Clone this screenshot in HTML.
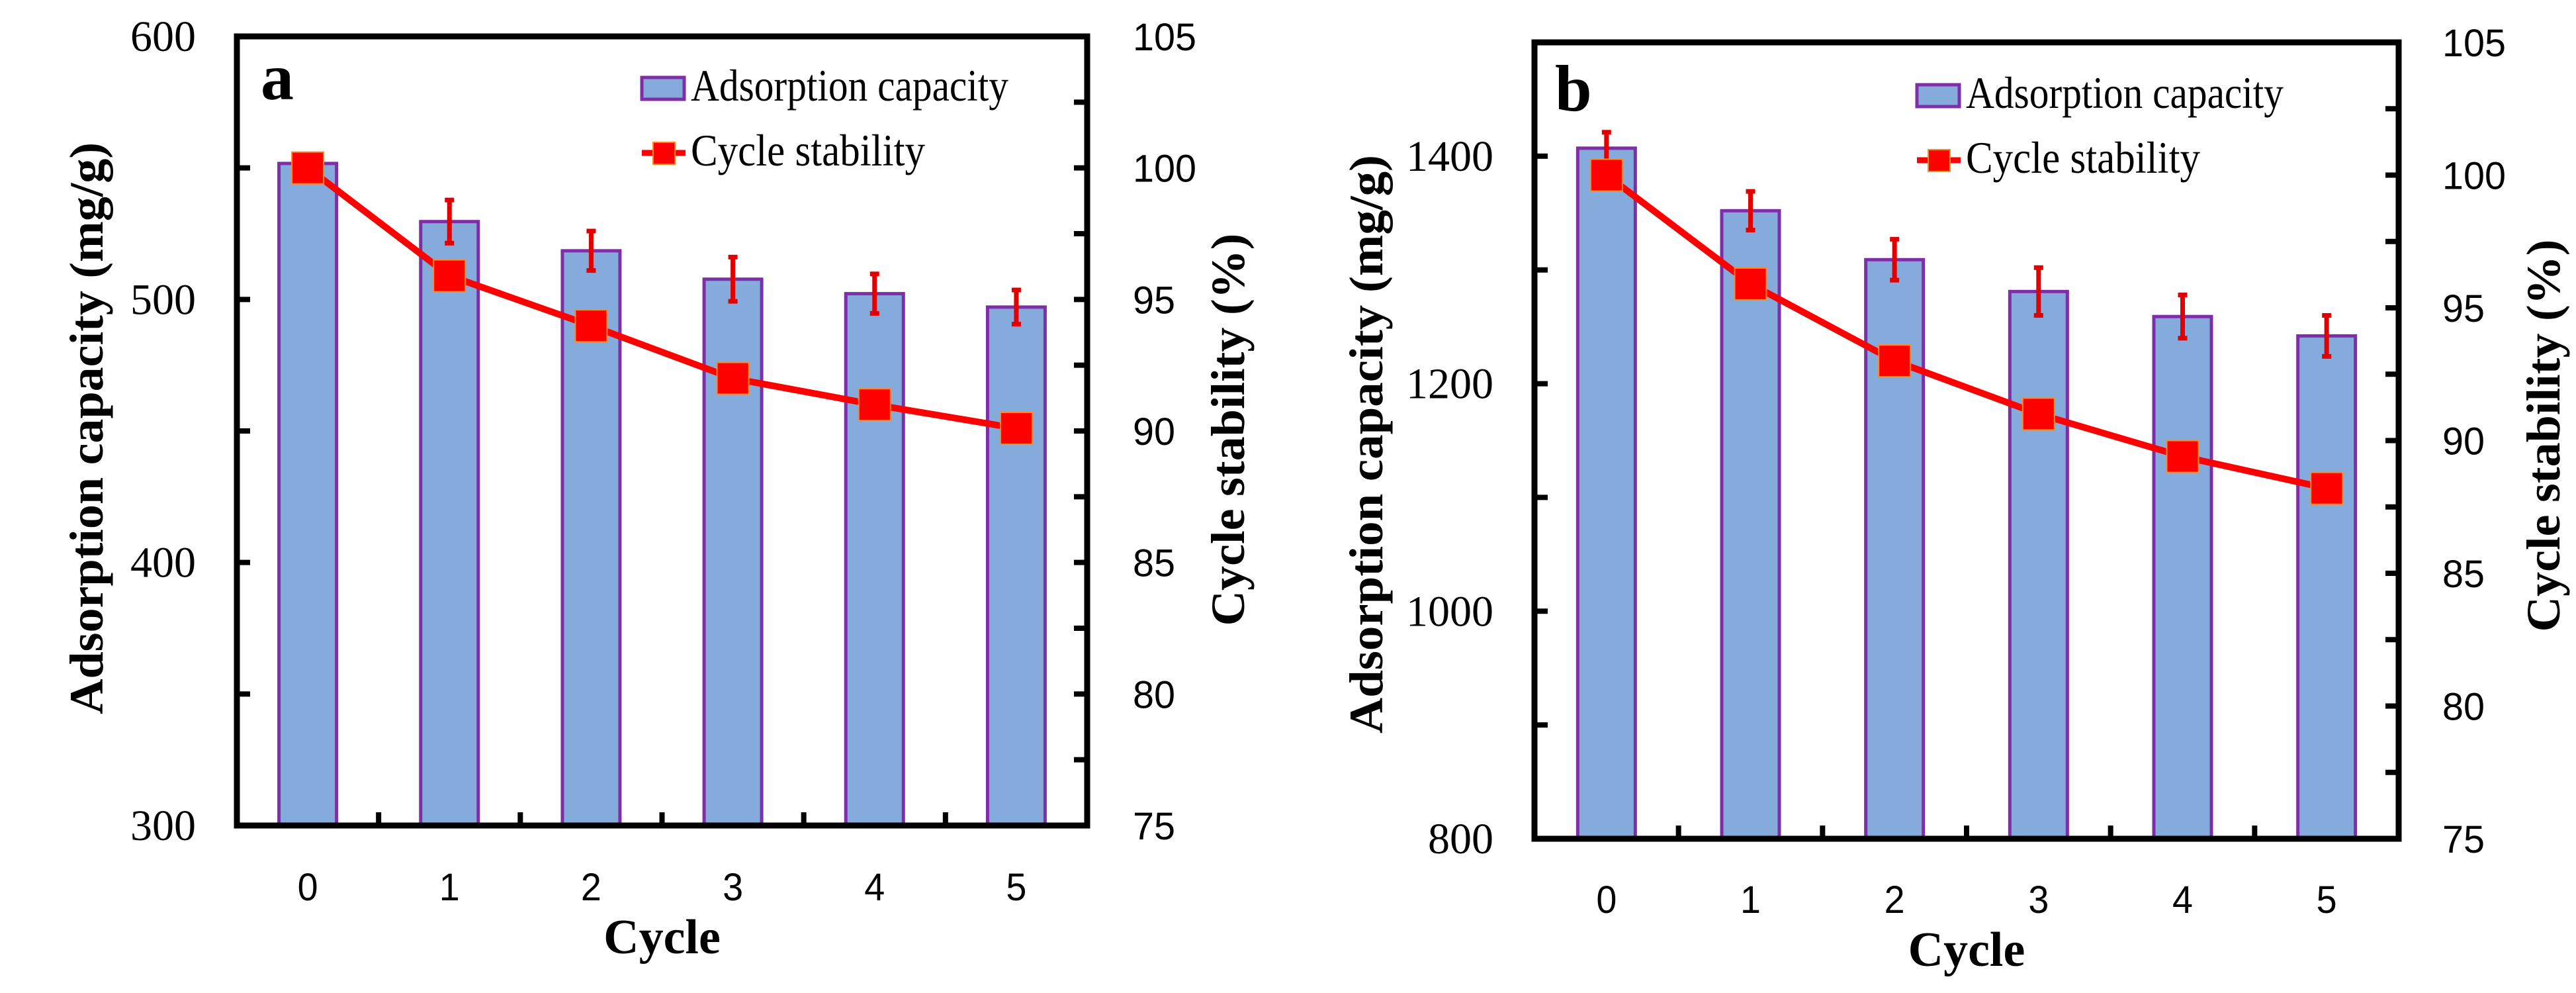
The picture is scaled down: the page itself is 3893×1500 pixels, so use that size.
<!DOCTYPE html>
<html><head><meta charset="utf-8"><style>
html,body{margin:0;padding:0;background:#fff;}
svg{display:block;}
</style></head><body>
<svg id="fig" width="3893" height="1500" viewBox="0 0 3893 1500" xmlns="http://www.w3.org/2000/svg"></svg>
<script>
// Panel a data
const categories = [0, 1, 2, 3, 4, 5];
const capacityA = [551.7, 529.6, 518.5, 507.7, 502.2, 497.1];
const capacityErrA = [1, 8.2, 7.5, 8.4, 7.5, 6.5];
const stabilityA = [100, 95.9, 94.0, 92.0, 91.0, 90.1];
const leftTicksA = [300, 400, 500, 600];
// Panel b data
const capacityB = [1407, 1352, 1309, 1281, 1259, 1242];
const capacityErrB = [14, 17, 18, 21, 19, 18];
const stabilityB = [100, 95.9, 93.0, 91.0, 89.4, 88.2];
const leftTicksB = [800, 1000, 1200, 1400];
const rightTicks = [75, 80, 85, 90, 95, 100, 105];

const NS = 'http://www.w3.org/2000/svg';
const svg = document.getElementById('fig');
function mk(tag, attrs, parent, text) {
  const e = document.createElementNS(NS, tag);
  for (const k in attrs) e.setAttribute(k, attrs[k]);
  if (text !== undefined) e.textContent = text;
  (parent || svg).appendChild(e);
  return e;
}

function panel(cfg) {
  const g = mk('g', {});
  
  
  const {x0, x1, y0, y1} = cfg;
  const n = categories.length, bw = (x1 - x0) / n;
  const xc = i => x0 + bw * (i + 0.5);
  const yL = v => y1 - (v - cfg.lmin) / (cfg.lmax - cfg.lmin) * (y1 - y0);
  const yR = v => y1 - (v - 75) / (105 - 75) * (y1 - y0);

  categories.forEach((c, i) => {
    const v = cfg.cap[i];
    const r = mk('rect', {x: xc(i) - 43.5, y: yL(v), width: 87, height: y1 - yL(v), fill: '#84ABDC', stroke: '#7E2FA6', 'stroke-width': 5}, g);
    
    
  });
  categories.forEach((c, i) => {
    const v = cfg.cap[i], e = cfg.err[i];
    const eg = mk('g', {stroke: '#E00000', 'stroke-width': 7}, g);
    
    
    mk('line', {x1: xc(i), x2: xc(i), y1: yL(v + e), y2: yL(v - e)}, eg);
    mk('line', {x1: xc(i) - 7, x2: xc(i) + 7, y1: yL(v + e), y2: yL(v + e)}, eg);
    mk('line', {x1: xc(i) - 7, x2: xc(i) + 7, y1: yL(v - e), y2: yL(v - e)}, eg);
  });
  const pts = categories.map((c, i) => xc(i) + ',' + yR(cfg.stab[i])).join(' ');
  const pl = mk('polyline', {points: pts, fill: 'none', stroke: '#FF0000', 'stroke-width': 10, 'stroke-linejoin': 'round'}, g);
  
  
  categories.forEach((c, i) => {
    const m = mk('rect', {x: xc(i) - 24, y: yR(cfg.stab[i]) - 24, width: 48, height: 48, fill: '#FF0000', stroke: '#FF8A1E', 'stroke-width': 2}, g);
    
    
  });

  const box = mk('rect', {x: x0, y: y0, width: x1 - x0, height: y1 - y0, fill: 'none', stroke: '#000', 'stroke-width': 9}, g);
  
  
  for (let v = cfg.lmin; v <= cfg.lmax + 1e-6; v += cfg.lminor) {
    mk('line', {x1: x0, x2: x0 + 20, y1: yL(v), y2: yL(v), stroke: '#000', 'stroke-width': 8}, g);
  }
  for (let v = 75; v <= 105; v += 2.5) {
    mk('line', {x1: x1, x2: x1 - 20, y1: yR(v), y2: yR(v), stroke: '#000', 'stroke-width': 8}, g);
  }
  for (let i = 1; i < n; i++) {
    mk('line', {x1: x0 + bw * i, x2: x0 + bw * i, y1: y1, y2: y1 - 20, stroke: '#000', 'stroke-width': 8}, g);
  }
  cfg.lticks.forEach(v => {
    const t = mk('text', {x: x0 - 62, y: yL(v) + 22, 'text-anchor': 'end', 'font-family': "'Liberation Serif', serif", 'font-size': 66}, g, String(v));
    
    
  });
  rightTicks.forEach(v => {
    const s = String(v);
    const t = mk('text', {x: cfg.rlx, y: yR(v) + 21, 'font-family': "'Liberation Sans', sans-serif", 'font-size': 58, textLength: s.length * 32, lengthAdjust: 'spacingAndGlyphs'}, g, s);
    
    
  });
  categories.forEach((c, i) => {
    const t = mk('text', {x: xc(i), y: cfg.xly, 'text-anchor': 'middle', 'font-family': "'Liberation Sans', sans-serif", 'font-size': 58, textLength: 31, lengthAdjust: 'spacingAndGlyphs'}, g, String(c));
    
    
  });
  const xt = mk('text', {x: (x0 + x1) / 2, y: cfg.xty, 'text-anchor': 'middle', 'font-family': "'Liberation Serif', serif", 'font-weight': 'bold', 'font-size': 74}, g, 'Cycle');
  
  
  const lt = mk('text', {x: 0, y: 0, transform: `translate(${cfg.ltx},${cfg.lty}) rotate(-90)`, 'text-anchor': 'middle', 'font-family': "'Liberation Serif', serif", 'font-weight': 'bold', 'font-size': 72, textLength: cfg.ltl, lengthAdjust: 'spacingAndGlyphs'}, g, 'Adsorption capacity (mg/g)');
  
  
  const rt = mk('text', {x: 0, y: 0, transform: `translate(${cfg.rtx},${cfg.rty}) rotate(-90)`, 'text-anchor': 'middle', 'font-family': "'Liberation Serif', serif", 'font-weight': 'bold', 'font-size': 72, textLength: 593, lengthAdjust: 'spacingAndGlyphs'}, g, 'Cycle stability (%)');
  
  
  const pt = mk('text', {x: cfg.lx, y: cfg.ly, 'font-family': "'Liberation Serif', serif", 'font-weight': 'bold', 'font-size': 100}, g, cfg.id);
  
  
  const lg = mk('g', {}, g);
  
  
  const e1 = mk('g', {}, lg);
  
  
  mk('rect', {x: cfg.lgx, y: cfg.lgy, width: 64, height: 33, fill: '#84ABDC', stroke: '#7E2FA6', 'stroke-width': 5}, e1);
  mk('text', {x: cfg.lgx + 74, y: cfg.lgy + 35, 'font-family': "'Liberation Serif', serif", 'font-size': 68, textLength: 480, lengthAdjust: 'spacingAndGlyphs'}, e1, 'Adsorption capacity');
  const e2 = mk('g', {}, lg);
  
  
  mk('line', {x1: cfg.lgx, x2: cfg.lgx + 66, y1: cfg.lgy + 114, y2: cfg.lgy + 114, stroke: '#FF0000', 'stroke-width': 9}, e2);
  mk('rect', {x: cfg.lgx + 17, y: cfg.lgy + 98, width: 33, height: 33, fill: '#FF0000', stroke: '#FF8A1E', 'stroke-width': 2}, e2);
  mk('text', {x: cfg.lgx + 74, y: cfg.lgy + 133, 'font-family': "'Liberation Serif', serif", 'font-size': 68, textLength: 354, lengthAdjust: 'spacingAndGlyphs'}, e2, 'Cycle stability');
}

panel({id: 'a', x0: 358, x1: 1643, y0: 55, y1: 1247, lmin: 300, lmax: 600, lminor: 50,
  cap: capacityA, err: capacityErrA, stab: stabilityA, lticks: leftTicksA,
  rlx: 1712, xly: 1360, xty: 1440, ltx: 155, lty: 647, ltl: 864, rtx: 1880, rty: 649,
  lx: 394, ly: 150, lgx: 970, lgy: 117});
panel({id: 'b', x0: 2319, x1: 3625, y0: 64, y1: 1267, lmin: 800, lmax: 1500, lminor: 100,
  cap: capacityB, err: capacityErrB, stab: stabilityB, lticks: leftTicksB,
  rlx: 3691, xly: 1379, xty: 1459, ltx: 2089, lty: 671, ltl: 874, rtx: 3868, rty: 658,
  lx: 2350, ly: 167, lgx: 2897, lgy: 128});
</script>
</body></html>
